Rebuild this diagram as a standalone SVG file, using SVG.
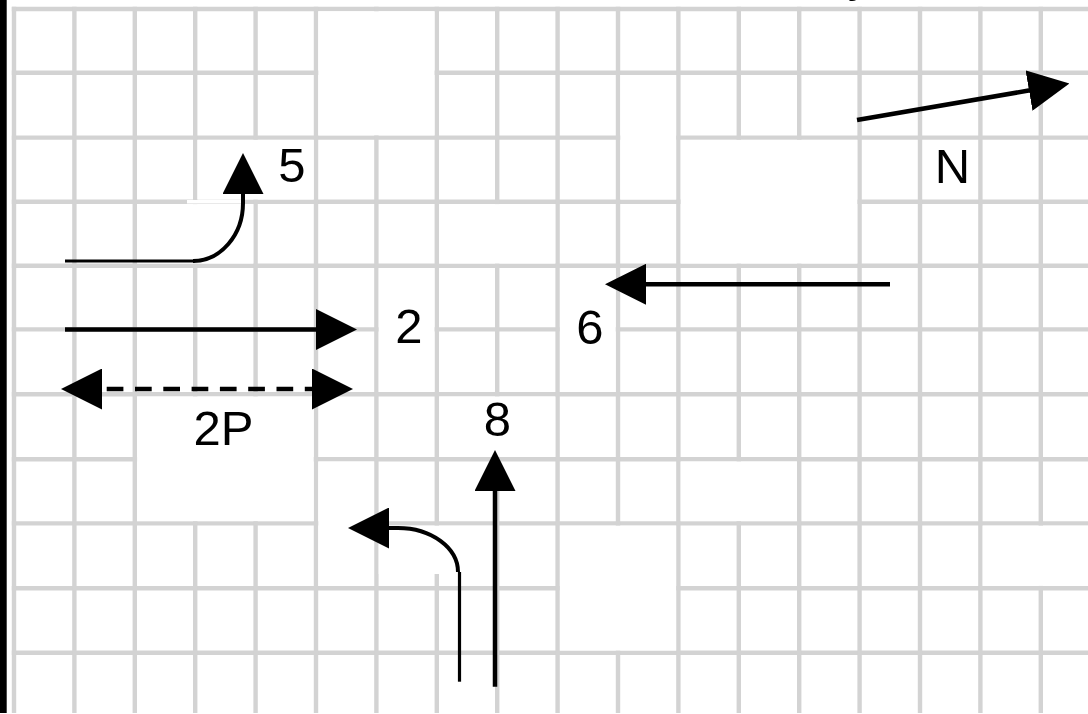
<svg xmlns="http://www.w3.org/2000/svg" width="1088" height="714" viewBox="0 0 1088 714">
  <style>
    .grid line { stroke: #d3d3d3; stroke-width: 4.4; }
    .cover { fill: #ffffff; }
    .shaft { fill: none; stroke: #000000; stroke-width: 4.5; }
    .thin { stroke-width: 3.2; }
    .bend { stroke-width: 4; }
    .dash { stroke-dasharray: 16.7 11.6; stroke-dashoffset: 22.6; }
    .lbl { font-family: "Liberation Sans", Arial, Helvetica, sans-serif; font-size: 49px; fill: #000000; text-anchor: middle; }
  </style>
  <defs>
    <marker id="head" viewBox="0 0 41 41" refX="1" refY="20.5" markerWidth="41" markerHeight="41" markerUnits="userSpaceOnUse" orient="auto-start-reverse">
      <path d="M0,0 L41,20.5 L0,41 Z" fill="#000000"/>
    </marker>
  </defs>

  <rect width="1088" height="714" fill="#ffffff"/>

  <!-- left border bar -->
  <rect id="border" x="0" y="0" width="6.7" height="713" fill="#000000"/>

  <!-- street grid -->
  <g id="grid" class="grid">
    <line x1="11.8" y1="9" x2="1088" y2="9"/>
    <line x1="11.8" y1="72.8" x2="1088" y2="72.8"/>
    <line x1="11.8" y1="137.6" x2="1088" y2="137.6"/>
    <line x1="11.8" y1="201.8" x2="1088" y2="201.8"/>
    <line x1="11.8" y1="265.8" x2="1088" y2="265.8"/>
    <line x1="11.8" y1="329.4" x2="1088" y2="329.4"/>
    <line x1="11.8" y1="394.2" x2="1088" y2="394.2"/>
    <line x1="11.8" y1="459.2" x2="1088" y2="459.2"/>
    <line x1="11.8" y1="523.4" x2="1088" y2="523.4"/>
    <line x1="11.8" y1="588.2" x2="1088" y2="588.2"/>
    <line x1="11.8" y1="652.8" x2="1088" y2="652.8"/>

    <line x1="14" y1="6.8" x2="14" y2="713"/>
    <line x1="74.4" y1="6.8" x2="74.4" y2="713"/>
    <line x1="134.8" y1="6.8" x2="134.8" y2="713"/>
    <line x1="195.2" y1="6.8" x2="195.2" y2="713"/>
    <line x1="255.6" y1="6.8" x2="255.6" y2="713"/>
    <line x1="316" y1="6.8" x2="316" y2="713"/>
    <line x1="376.4" y1="6.8" x2="376.4" y2="713"/>
    <line x1="436.8" y1="6.8" x2="436.8" y2="713"/>
    <line x1="497.2" y1="6.8" x2="497.2" y2="713"/>
    <line x1="557.6" y1="6.8" x2="557.6" y2="713"/>
    <line x1="618" y1="6.8" x2="618" y2="713"/>
    <line x1="678.4" y1="6.8" x2="678.4" y2="713"/>
    <line x1="738.8" y1="6.8" x2="738.8" y2="713"/>
    <line x1="799.2" y1="6.8" x2="799.2" y2="713"/>
    <line x1="859.6" y1="6.8" x2="859.6" y2="713"/>
    <line x1="920" y1="6.8" x2="920" y2="713"/>
    <line x1="980.4" y1="6.8" x2="980.4" y2="713"/>
    <line x1="1040.8" y1="6.8" x2="1040.8" y2="713"/>

    <!-- merged blocks: interior lines hidden -->
    <rect class="cover" x="318.3" y="11.3" width="116.2" height="124"/>
    <rect class="cover" x="197.5" y="139.9" width="116.2" height="59.6"/>
    <rect class="cover" x="137.1" y="204.1" width="116.2" height="59.4"/>
    <rect class="cover" x="439.1" y="204.1" width="116.2" height="59.4"/>
    <rect class="cover" x="620.3" y="75.1" width="55.8" height="124.4"/>
    <rect class="cover" x="680.7" y="139.9" width="176.6" height="123.6"/>
    <rect class="cover" x="378.7" y="268.1" width="55.8" height="123.8"/>
    <rect class="cover" x="559.9" y="268.1" width="55.8" height="123.8"/>
    <rect class="cover" x="439.1" y="396.5" width="116.2" height="60.4"/>
    <rect class="cover" x="137.1" y="396.5" width="176.6" height="124.6"/>
    <rect class="cover" x="318.3" y="461.5" width="55.8" height="124.4"/>
    <rect class="cover" x="378.7" y="525.7" width="116.2" height="48.3"/>
    <rect class="cover" x="680.7" y="461.5" width="116.2" height="59.6"/>
    <rect class="cover" x="559.9" y="525.7" width="116.2" height="124.8"/>
    <rect class="cover" x="982.7" y="525.7" width="110" height="60.2"/>

    <line x1="187" y1="201.8" x2="242" y2="201.8" style="stroke:#ffffff;stroke-width:3.6"/>
  </g>

  <!-- movement arrows -->
  <g id="connectors">
    <line class="shaft thin" x1="65" y1="261" x2="195" y2="261"/>
    <path class="shaft bend" d="M193,261 A50 58 0 0 0 243,203 L243,193" marker-end="url(#head)"/>

    <line class="shaft" x1="65" y1="329.5" x2="317" y2="329.5" marker-end="url(#head)"/>

    <line class="shaft dash" x1="101" y1="389" x2="313" y2="389" marker-start="url(#head)" marker-end="url(#head)"/>

    <line class="shaft" x1="890" y1="284.3" x2="645" y2="284.3" marker-end="url(#head)"/>

    <line class="shaft" x1="857" y1="120" x2="1030" y2="90.3" marker-end="url(#head)"/>

    <line class="shaft" x1="495" y1="686.7" x2="495" y2="490" marker-end="url(#head)"/>

    <line class="shaft thin" x1="459.5" y1="681.7" x2="459.5" y2="572"/>
    <path class="shaft bend" d="M458,572 A60 44 0 0 0 398,528 L388,528" marker-end="url(#head)"/>
  </g>

  <!-- movement numbers and north label -->
  <g id="label-5"><text class="lbl" x="292" y="181.7">5</text></g>
  <g id="label-2"><text class="lbl" x="409" y="342.5">2</text></g>
  <g id="label-6"><text class="lbl" x="590" y="343.5">6</text></g>
  <g id="label-8"><text class="lbl" x="497.5" y="436.2">8</text></g>
  <g id="label-2p"><text class="lbl" x="223.5" y="444.6">2P</text></g>
  <g id="label-n"><text class="lbl" x="952.5" y="182.5">N</text></g>
  <!-- heading above the sheet, only its descender reaches into view -->
  <g id="title"><text class="lbl" x="860" y="-9">y</text></g>
</svg>
